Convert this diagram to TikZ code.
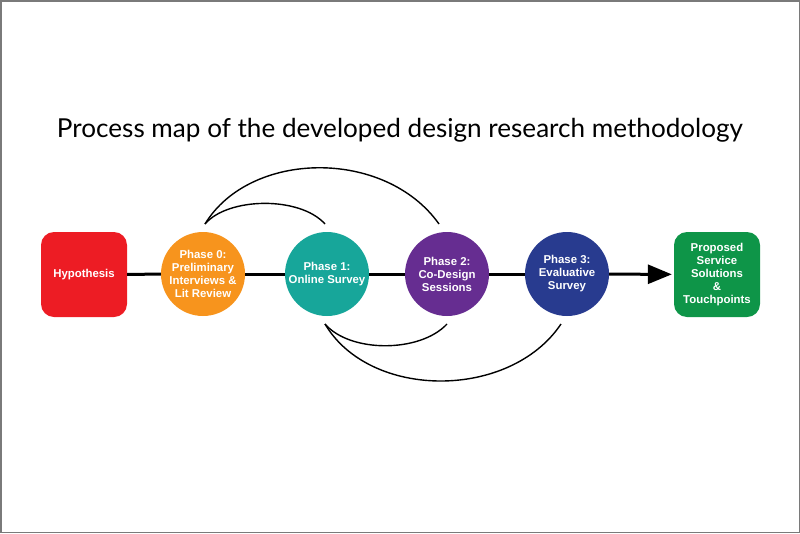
\documentclass[tikz,border=0pt]{standalone}
\usepackage{fontspec}
\setmainfont{Liberation Sans}
\newfontfamily\titlefont{Lato}
\usetikzlibrary{arrows.meta}
\definecolor{cred}{HTML}{ED1C24}
\definecolor{corange}{HTML}{F7941D}
\definecolor{cteal}{HTML}{17A69A}
\definecolor{cpurple}{HTML}{662D91}
\definecolor{cblue}{HTML}{283B8F}
\definecolor{cgreen}{HTML}{0E9548}
\definecolor{cframe}{HTML}{7A7A7A}
\tikzset{
  lbl/.style={text=white, font=\fontsize{11.4}{13}\selectfont\bfseries, align=center, inner sep=0pt},
  rbox/.style={lbl, rounded corners=13pt, minimum width=86pt, minimum height=85pt},
  phase/.style={lbl, circle, minimum size=84pt},
  flow/.style={line width=3pt, black},
  loop/.style={line width=1.4pt, black},
}
\begin{document}
\begin{tikzpicture}[x=1pt, y=-1pt]
\useasboundingbox (0,0) rectangle (800,533);
\draw[cframe, line width=1.5pt] (0.75,0.75) rectangle (799.25,532.25);
\node[inner sep=0pt, anchor=base] (title) at (400,137)
  {\resizebox{686pt}{!}{\titlefont\fontsize{26}{30}\selectfont Process map of the developed design research methodology}};

\node[rbox, fill=cred] (hyp) at (84,274.5) {Hypothesis};
\node[phase, fill=corange] (p0) at (203,274) {Phase 0:\\Preliminary\\Interviews \&\\Lit Review};
\node[phase, fill=cteal] (p1) at (327,274) {Phase 1:\\Online Survey};
\node[phase, fill=cpurple] (p2) at (447,274) {Phase 2:\\Co-Design\\Sessions};
\node[phase, fill=cblue] (p3) at (567,274) {Phase 3:\\Evaluative\\Survey};
\node[rbox, fill=cgreen] (prop) at (717,274.5) {Proposed\\Service\\Solutions\\\&\\Touchpoints};

\draw[flow] (hyp) -- (p0);
\draw[flow] (p0) -- (p1);
\draw[flow] (p1) -- (p2);
\draw[flow] (p2) -- (p3);
\draw[flow, -{Triangle[length=24pt, width=19pt]}, shorten >=2pt] (p3) -- (prop);

\coordinate (t0) at (205,224);
\coordinate (t1) at (325,224);
\coordinate (t2) at (439,224);
\coordinate (b1) at (325,324);
\coordinate (b2) at (447,324);
\coordinate (b3) at (561,324);
\draw[loop] (t0) .. controls (228,197) and (300,196) .. (t1);
\draw[loop] (t0) .. controls (250,150) and (385,148) .. (t2);
\draw[loop] (b1) .. controls (350,353) and (420,353) .. (b2);
\draw[loop] (b1) .. controls (370,400) and (510,400) .. (b3);
\end{tikzpicture}
\end{document}
